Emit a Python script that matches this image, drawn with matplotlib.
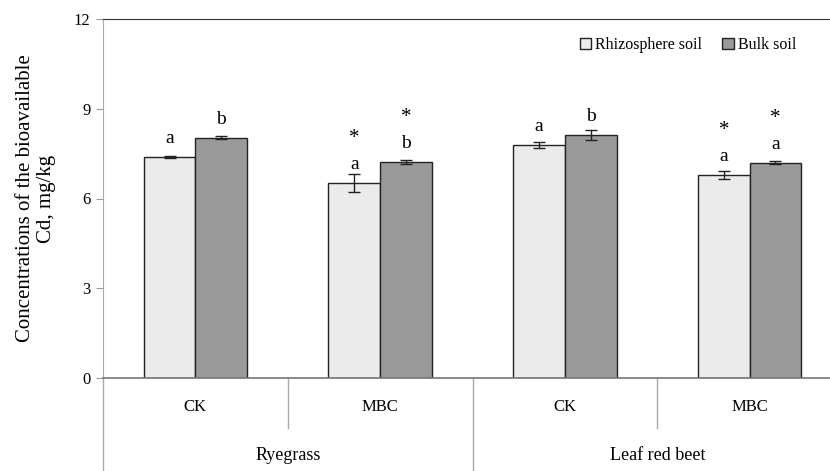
import matplotlib.pyplot as plt
from matplotlib.patches import Patch
from matplotlib.transforms import blended_transform_factory
import numpy as np

plt.rcParams['font.family'] = ['Liberation Serif', 'DejaVu Serif']

# data
treatments = ["CK", "MBC", "CK", "MBC"]
plants = ["Ryegrass", "Leaf red beet"]
rhizo = [7.4, 6.52, 7.79, 6.79]
rhizo_err = [0.03, 0.3, 0.1, 0.13]
bulk = [8.03, 7.22, 8.12, 7.19]
bulk_err = [0.05, 0.06, 0.16, 0.05]
rhizo_letters = ["a", "a", "a", "a"]
bulk_letters = ["b", "b", "b", "a"]
rhizo_star = [False, True, False, True]
bulk_star = [False, True, False, True]

light = "#ebebeb"
dark = "#999a99"

fig = plt.figure(figsize=(8.3, 4.71), dpi=100)
ax = fig.add_axes([103 / 830, 93 / 471, 739 / 830, 359 / 471])

x = np.arange(len(treatments))
w = 0.28
ax.bar(x - w / 2, rhizo, w, color=light, edgecolor="#222222", linewidth=1.0, zorder=2)
ax.bar(x + w / 2, bulk, w, color=dark, edgecolor="#222222", linewidth=1.0, zorder=2)
ax.errorbar(x - w / 2, rhizo, yerr=rhizo_err, fmt="none", ecolor="#222222",
            elinewidth=1.0, capsize=4, capthick=1.0, zorder=3)
ax.errorbar(x + w / 2, bulk, yerr=bulk_err, fmt="none", ecolor="#222222",
            elinewidth=1.0, capsize=4, capthick=1.0, zorder=3)

# significance letters and stars (placed relative to the bar top)
for xs, vals, letters, stars in [
    (x - w / 2, rhizo, rhizo_letters, rhizo_star),
    (x + w / 2, bulk, bulk_letters, bulk_star),
]:
    for xi, v, lt, st in zip(xs, vals, letters, stars):
        ax.annotate(lt, (xi, v), xytext=(0, 10), textcoords="offset points",
                    ha="center", va="baseline", fontsize=14)
        if st:
            ax.annotate("*", (xi, v), xytext=(0, 28.5), textcoords="offset points",
                        ha="center", va="baseline", fontsize=15)

ax.set_xlim(-0.5, 3.5)
ax.set_ylim(0, 12)
ax.set_yticks([0, 3, 6, 9, 12])
ax.set_xticks([])
ax.tick_params(axis="y", direction="out", length=5, color="#999999",
               labelsize=12, pad=4)

ax.spines["right"].set_visible(False)
ax.spines["top"].set_color("#333333")
ax.spines["left"].set_color("#aaaaaa")
ax.spines["bottom"].set_color("#777777")
ax.spines["bottom"].set_linewidth(1.2)

ax.set_ylabel("Concentrations of the bioavailable\nCd, mg/kg", fontsize=15,
              linespacing=1.15, labelpad=13)

# category axis
trans = blended_transform_factory(ax.transData, ax.transAxes)
for xb, bottom in [(-0.5, -0.26), (0.5, -0.139), (1.5, -0.26), (2.5, -0.139)]:
    ax.plot([xb, xb], [0, bottom], transform=trans, color="#aaaaaa",
            linewidth=1.0, clip_on=False)
for xi, t in zip(x, treatments):
    ax.text(xi, -0.081, t, transform=trans, ha="center", va="center", fontsize=12)
for i, p in enumerate(plants):
    ax.text(2 * i + 0.5, -0.217, p, transform=trans, ha="center", va="center",
            fontsize=13)

handles = [Patch(facecolor=light, edgecolor="#222222", label="Rhizosphere soil"),
           Patch(facecolor=dark, edgecolor="#222222", label="Bulk soil")]
fig.legend(handles=handles, loc="upper right", bbox_to_anchor=(796 / 830, 434 / 471),
           ncol=2, frameon=False, fontsize=11.5, handlelength=0.7,
           handleheight=0.7, handletextpad=0.25, columnspacing=1.3,
           borderaxespad=0, borderpad=0)

fig.savefig("out.png", dpi=100)
